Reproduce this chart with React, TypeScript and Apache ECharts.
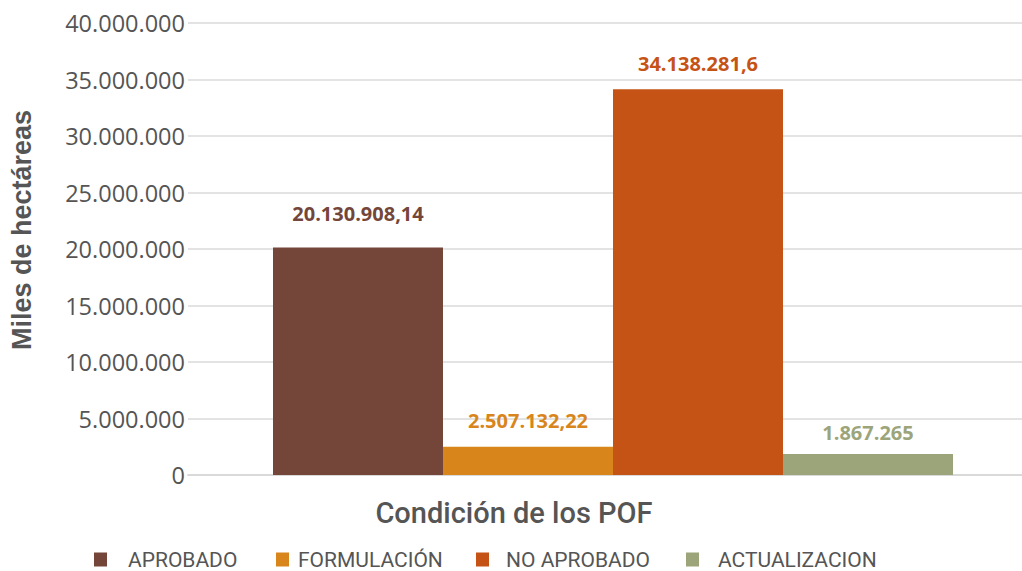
import React, { useEffect, useRef } from "react";
import * as echarts from "echarts";

const xAxisTitle = "Condición de los POF";
const yAxisTitle = "Miles de hectáreas";
const categories = [xAxisTitle];
const seriesNames = ["APROBADO", "FORMULACIÓN", "NO APROBADO", "ACTUALIZACION"];
const seriesValues = [20130908.14, 2507132.22, 34138281.6, 1867265];
const seriesLabels = ["20.130.908,14", "2.507.132,22", "34.138.281,6", "1.867.265"];
const seriesColors = ["#74463A", "#D8861C", "#C65316", "#9CA57A"];
const yTicks = { min: 0, max: 40000000, interval: 5000000 };

function fmt(v: number): string {
  return String(Math.round(v)).replace(/\B(?=(\d{3})+(?!\d))/g, ".");
}

const legendLefts = [94, 276, 476, 686];
const legendTextGaps = [16, 4, 12, 14];

export default function App() {
  const ref = useRef<HTMLDivElement>(null);
  useEffect(() => {
    if (!ref.current) return;
    const chart = echarts.init(ref.current, undefined, { renderer: "svg" });
    const realSeries = seriesNames.map((name, i) => ({
      name,
      type: "bar",
      data: [seriesValues[i]],
      barWidth: 170,
      barGap: "0%",
      itemStyle: { color: seriesColors[i] },
      label: {
        show: true,
        position: "top",
        distance: i === 0 ? 24 : i === 3 ? 11 : 16,
        formatter: () => seriesLabels[i],
        fontFamily: "Open Sans, sans-serif",
        fontWeight: "bold",
        fontSize: 20,
        color: seriesColors[i],
      },
    }));
    chart.setOption({
      animation: false,
      backgroundColor: "#ffffff",
      grid: { left: 188, right: 0, top: 23, bottom: 96, containLabel: false },
      legend: seriesNames.map((n, i) => ({
        left: legendLefts[i],
        top: 549,
        padding: 0,
        itemWidth: 13,
        itemHeight: 14,
        icon: "rect",
        textStyle: {
          fontFamily: "Roboto, sans-serif",
          fontSize: 21,
          color: "#555555",
          padding: [0, 0, 0, legendTextGaps[i]],
        },
        data: [n],
      })),
      graphic: [
        {
          type: "text",
          x: 22,
          y: 230,
          rotation: Math.PI / 2,
          style: {
            text: yAxisTitle,
            x: 0,
            y: 0,
            align: "center",
            verticalAlign: "middle",
            fontFamily: "Liberation Sans, Arial, sans-serif",
            fontWeight: 600,
            fontSize: 27,
            fill: "#555555",
          },
        },
        {
          type: "text",
          x: 514,
          y: 513,
          style: {
            text: xAxisTitle,
            align: "center",
            verticalAlign: "middle",
            fontFamily: "Roboto, sans-serif",
            fontWeight: 500,
            fontSize: 29,
            fill: "#555555",
          },
        },
      ],
      xAxis: {
        type: "category",
        data: categories,
        axisLine: { show: true, lineStyle: { color: "#d9d9d9", width: 2 } },
        axisTick: { show: false },
        axisLabel: { show: false },
      },
      yAxis: {
        type: "value",
        min: yTicks.min,
        max: yTicks.max,
        interval: yTicks.interval,
        axisLine: { show: false },
        axisTick: { show: false },
        axisLabel: {
          formatter: (v: number) => fmt(v),
          fontFamily: "Open Sans, sans-serif",
          fontSize: 23.5,
          color: "#555555",
          margin: 3,
        },
        splitLine: { lineStyle: { color: "#e3e3e3", width: 2 } },
      },
      series: [
        {
          name: "spacer",
          type: "bar",
          data: [null],
          barWidth: 16,
          barGap: "0%",
          silent: true,
          label: { show: false },
        },
        ...realSeries,
      ],
    });
    return () => chart.dispose();
  }, []);
  return <div ref={ref} style={{ width: 1022, height: 571, position: "absolute", left: 0, top: 0 }} />;
}
